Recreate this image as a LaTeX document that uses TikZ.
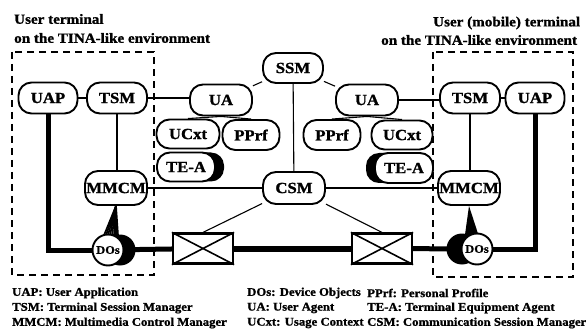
\documentclass[tikz,border=0pt]{standalone}
\usepackage{fontspec}
\setmainfont{Liberation Serif}[UprightFont=* Bold, BoldFont=* Bold, FakeStretch=1.08, FakeBold=1.2]
\usetikzlibrary{shadows,calc}
\pgfdeclarelayer{background}
\pgfsetlayers{background,main}

\newcommand{\nodefont}{\fontsize{15.5}{16}\selectfont}
\newcommand{\titlefont}{\fontsize{14}{16}\selectfont}
\newcommand{\legendfont}{\fontsize{11.8}{14}\selectfont}

\tikzset{
  pill/.style={draw, line width=1.9pt, rounded corners=13pt, fill=white,
    minimum width=60pt, minimum height=31pt, inner sep=0pt, font=\nodefont},
  dobj/.style={draw, circle, line width=1.9pt, fill=white, minimum size=31pt,
    inner sep=0pt, font=\fontsize{11.5}{12}\selectfont},
  shaderight/.style={drop shadow={shadow xshift=#1, shadow yshift=0pt,
    opacity=1, fill=black}},
  conn/.style={line width=1.1pt},
  bus/.style={line width=5pt},
  frame/.style={dash pattern=on 7pt off 5pt, line width=1.4pt},
  switchbox/.style={draw, line width=2.2pt, minimum width=60pt,
    minimum height=30pt, fill=white},
  title/.style={anchor=west, inner sep=0pt, font=\titlefont},
  legend/.style={anchor=west, inner sep=0pt, font=\legendfont},
}

\begin{document}
\begin{tikzpicture}[x=1pt, y=-1pt]
\useasboundingbox (0,0) rectangle (586,331);

% environment frames
\draw[frame] (12,52) rectangle (154,275);
\draw[frame] (433,52) rectangle (573,277);

% titles
\node[title] (tl1) at (14,19) {User terminal};
\node[title] (tl2) at (14,38) {on the TINA-like environment};
\node[title] (tr1) at (433,23) {User (mobile) terminal};
\node[title] (tr2) at (381,40) {on the TINA-like environment};

% top row
\node[pill, minimum width=59pt] (UAPL) at (48,98) {UAP};
\node[pill] (TSML) at (117,98) {TSM};
\node[pill, minimum width=62pt] (UAL) at (221,100) {UA};
\node[pill, minimum height=30pt] (SSM) at (293,68) {SSM};
\node[pill, minimum width=62pt] (UAR) at (367,100) {UA};
\node[pill] (TSMR) at (470,98) {TSM};
\node[pill, minimum width=59pt] (UAPR) at (535,98) {UAP};

% user agent attachments
\node[pill, minimum width=63pt, minimum height=29pt] (UCxtL) at (188,134) {UCxt};
\node[pill, minimum width=57pt, minimum height=30pt] (PPrfL) at (251,135) {PPrf};
\node[pill, minimum width=58pt, minimum height=29pt, shaderight=9pt] (TEAL) at (186,167) {TE-A};
\node[pill, minimum width=57pt, minimum height=30pt] (PPrfR) at (332,135) {PPrf};
\node[pill, minimum width=61pt, minimum height=29pt] (UCxtR) at (402,135) {UCxt};
\node[pill, minimum width=58pt, minimum height=30pt, shaderight=-9pt] (TEAR) at (404,168) {TE-A};

% session and control managers
\node[pill, minimum width=62pt, minimum height=32pt] (CSM) at (294,188) {CSM};
\node[pill, minimum width=62pt, minimum height=34pt] (MMCML) at (116,188) {MMCM};
\node[pill, minimum width=62pt, minimum height=34pt] (MMCMR) at (469,188) {MMCM};

% device objects
\node[dobj, shaderight=12pt] (DOsL) at (108,250) {DOs};
\node[dobj, shaderight=-15pt] (DOsR) at (477,249) {DOs};

% switches
\node[switchbox] (swL) at (203,248.5) {};
\node[switchbox] (swR) at (382,248.5) {};
\draw[line width=1.6pt] (swL.north west) -- (swL.south east)
                        (swL.north east) -- (swL.south west);
\draw[line width=1.6pt] (swR.north west) -- (swR.south east)
                        (swR.north east) -- (swR.south west);

% links between MMCM and device objects
\begin{pgfonlayer}{background}
  \foreach \dx in {-10,-7,...,11}
    \draw[line width=1.7pt] (MMCML.south) -- ($(DOsL)+(\dx,0)$);
  \fill (MMCMR.south) -- ($(DOsR)+(-14,0)$) -- ($(DOsR)+(6,0)$) -- cycle;
\end{pgfonlayer}

% signalling links
\draw[conn] (UAPL) -- (TSML);
\draw[conn] (TSML.east) -- (TSML.east -| UAL.west);
\draw[conn] (UAR.east) -- (UAR.east -| TSMR.west);
\draw[conn] (TSMR) -- (UAPR);
\draw[conn] (UAL) -- (SSM);
\draw[conn] (SSM) -- (UAR);
\draw[conn] (SSM) -- (CSM);
\draw[conn] (UAL.south) -- (UCxtL.north);
\draw[conn] (UAL.south) -- (PPrfL.north);
\draw[conn] (UAR.south) -- (PPrfR.north);
\draw[conn] (UAR.south) -- (UCxtR.north);
\draw[conn] (TSML.south) -- (TSML.south |- MMCML.north);
\draw[conn] (TSMR.south) -- (TSMR.south |- MMCMR.north);
\draw[conn] (MMCML.east) -- (MMCML.east -| CSM.west);
\draw[conn] (CSM.east) -- (CSM.east -| MMCMR.west);
\draw[conn] (CSM) -- (swL.north);
\draw[conn] (CSM) -- (swR.north);

% transport paths
\draw[bus] (UAPL.south) |- (DOsL);
\draw[bus] (DOsL) -- (swL);
\draw[line width=6pt] (swL) -- (swR);
\draw[bus] (swR) -- (DOsR);
\draw[bus] (DOsR) -| (UAPR.south);

% legend
\node[legend] (l1) at (12,293) {UAP: User Application};
\node[legend] (l2) at (12,308) {TSM: Terminal Session Manager};
\node[legend] (l3) at (12,323) {MMCM: Multimedia Control Manager};
\node[legend] (l4) at (247,293) {DOs: Device Objects};
\node[legend] (l5) at (247,308) {UA: User Agent};
\node[legend] (l6) at (247,323) {UCxt: Usage Context};
\node[legend] (l7) at (367,293) {PPrf: Personal Profile};
\node[legend] (l8) at (367,308) {TE-A: Terminal Equipment Agent};
\node[legend] (l9) at (367,323) {CSM: Communication Session Manager};
\end{tikzpicture}
\end{document}
